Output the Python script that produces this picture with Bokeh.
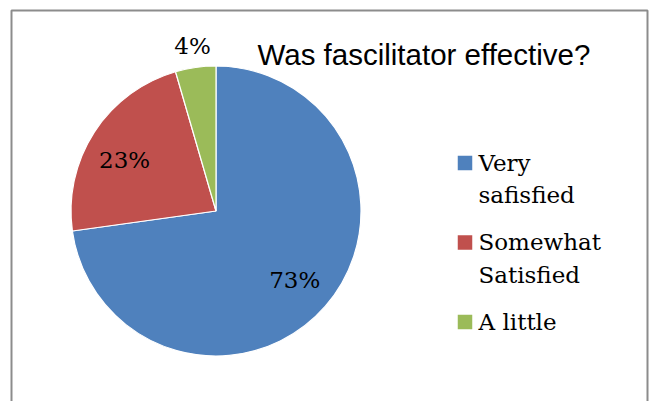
import math
from bokeh.plotting import figure
from bokeh.models import Range1d, ColumnDataSource
from bokeh.core.properties import value
from bokeh.embed import file_html
from bokeh.resources import INLINE

# ---- data ----
categories = ["Very\nsafisfied", "Somewhat\nSatisfied", "A little"]
shares = [72.8, 22.7, 4.5]
pct_labels = ["73%", "23%", "4%"]
colors = ["#4F81BD", "#C0504D", "#9BBB59"]
title_text = "Was fascilitator effective?"

W, H = 654, 401
p = figure(width=W, height=H, output_backend="svg", toolbar_location=None,
           x_range=Range1d(0, W), y_range=Range1d(0, H), min_border=0)
p.axis.visible = False
p.grid.visible = False
p.outline_line_color = None
p.background_fill_color = "white"
p.border_fill_color = "white"

# frame (left, top, right)
p.line(x=[11, 11, 647, 647], y=[-5, 391, 391, -5], line_color="#8c8c8c", line_width=2)

# pie
cx, cy, R = 215.5, 190.5, 145
total = sum(shares)
starts, ends, mids = [], [], []
acc = 0.0
for v in shares:
    a0 = math.pi / 2 - acc / total * 2 * math.pi
    acc += v
    a1 = math.pi / 2 - acc / total * 2 * math.pi
    starts.append(a0); ends.append(a1); mids.append((a0 + a1) / 2)

src = ColumnDataSource(dict(x=[cx] * 3, y=[cy] * 3, start=starts, end=ends, color=colors))
p.wedge(x="x", y="y", radius=R, start_angle="start", end_angle="end", direction="clock",
        fill_color="color", line_color="white", line_width=1.2, source=src)

# percentage labels
label_r = [0.72 * R, 0.72 * R, 1.15 * R]
label_da = [0.0, math.radians(4), 0.0]
lx = [cx + r * math.cos(a + d) for r, a, d in zip(label_r, mids, label_da)]
ly = [cy + r * math.sin(a + d) for r, a, d in zip(label_r, mids, label_da)]
p.text(x=lx, y=ly, text=pct_labels, text_font=value("DejaVu Serif"), text_font_size="23px",
       text_align="center", text_baseline="middle", text_color="black")

# title
p.text(x=[257], y=[347.5], text=[title_text], text_font=value("Liberation Sans"),
       text_font_size="29.5px", text_align="left", text_baseline="middle", text_color="black")

# legend (manual)
sq_x = 464.5
first_y = 238.5
entry_step = 79.5
line_gap = 32.5
sq_size = 14.5
for i, (cat, col) in enumerate(zip(categories, colors)):
    ycen = first_y - i * entry_step
    p.rect(x=[sq_x], y=[ycen], width=sq_size, height=sq_size, width_units="screen",
           height_units="screen", fill_color=col, line_color=None)
    for j, line in enumerate(cat.split("\n")):
        p.text(x=[478], y=[ycen + 0.5 - j * line_gap], text=[line], text_font=value("DejaVu Serif"),
               text_font_size="23px", text_align="left", text_baseline="middle",
               text_color="black")

open("out.html", "w").write(file_html(p, INLINE))
